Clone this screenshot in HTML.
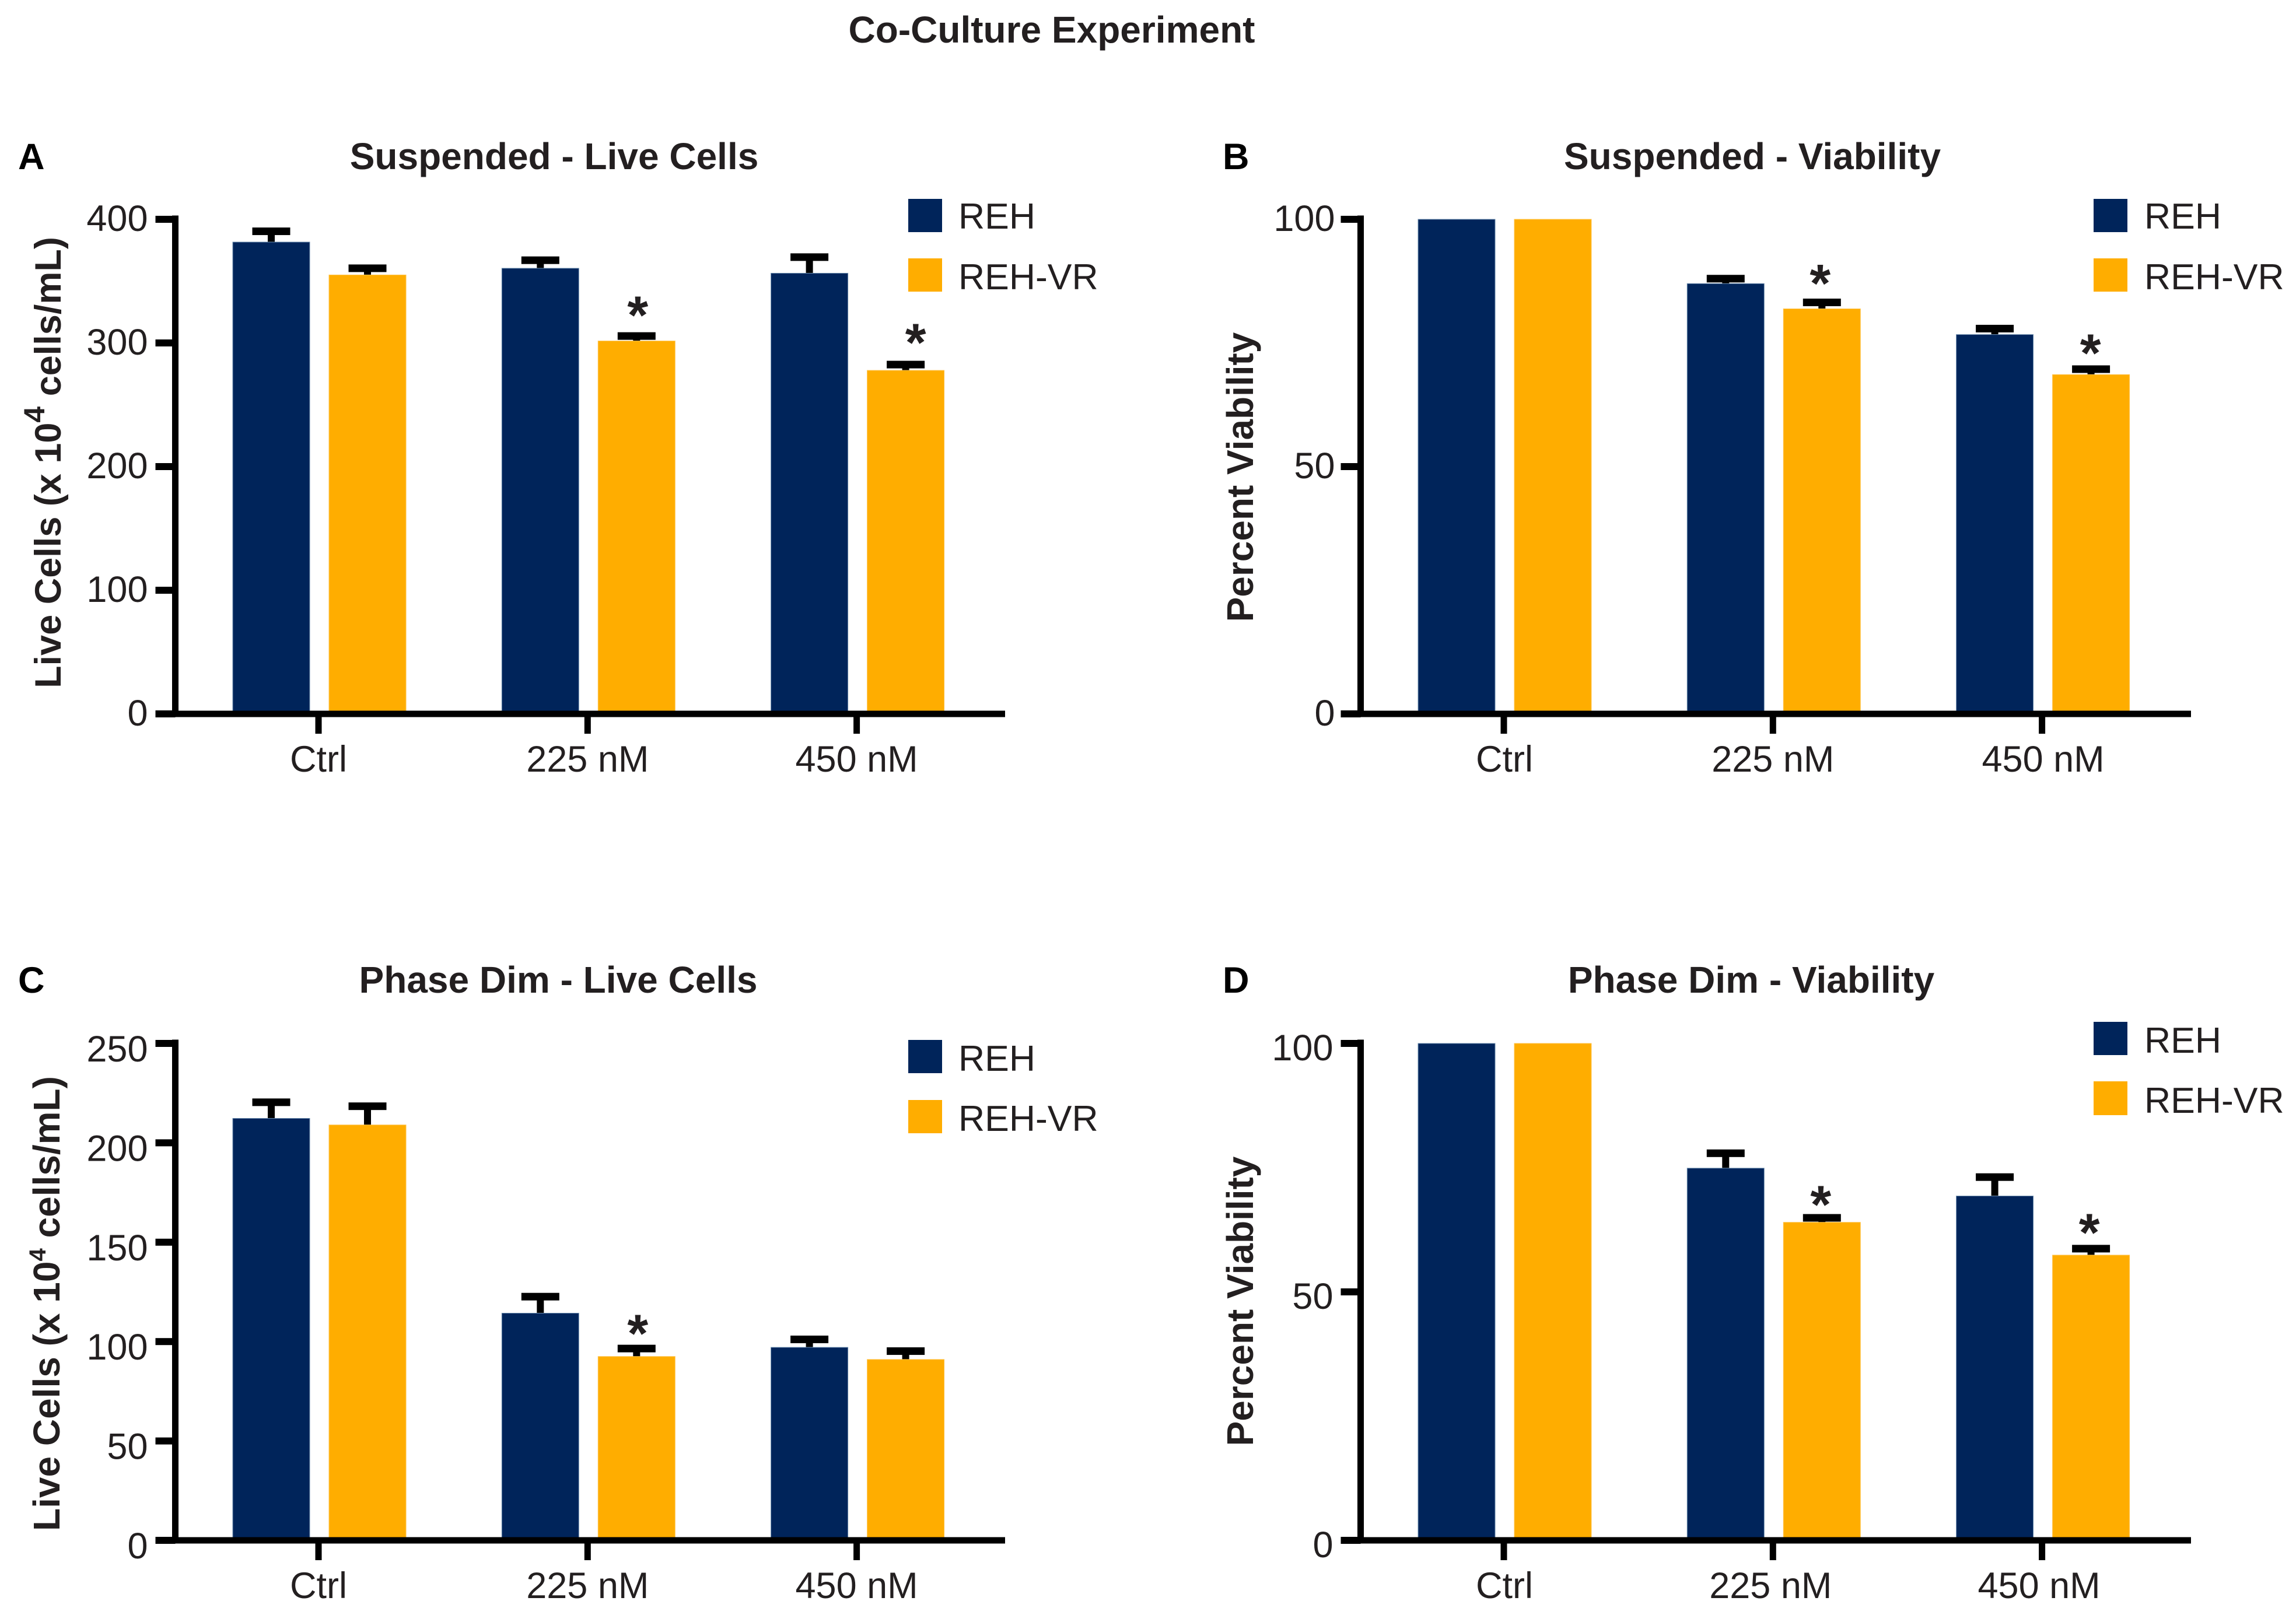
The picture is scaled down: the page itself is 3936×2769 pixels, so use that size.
<!DOCTYPE html>
<html lang="en">
<head>
<meta charset="utf-8">
<title>Co-Culture Experiment</title>
<style>
html,body{margin:0;padding:0;background:#fff;}
svg{display:block;}
text{font-family:"Liberation Sans",Arial,sans-serif;fill:#231f20;}
.bold{font-weight:700;}
.ttl{font-size:64px;font-weight:700;text-anchor:middle;}
.ylab{font-size:64px;font-weight:700;text-anchor:middle;}
.let{font-size:63px;font-weight:700;fill:#000;}
.leg{font-size:62.5px;}
.tick{font-size:63px;}
</style>
</head>
<body>
<svg id="figure" xmlns="http://www.w3.org/2000/svg" width="3936" height="2769" viewBox="0 0 3936 2769">
  <rect x="0" y="0" width="3936" height="2769" fill="#ffffff"/>
  <text class="ttl" x="1803" y="73">Co-Culture Experiment</text>

  <g id="panel-a">
    <text class="let" x="31" y="290">A</text>
    <text class="ttl" x="950" y="290">Suspended - Live Cells</text>
    <text class="ylab" font-size="63" style="font-size:63px" transform="translate(104 793) rotate(-90)">Live Cells (x 10<tspan font-size="50" style="font-size:50px" dy="-28">4</tspan><tspan dy="28"> cells/mL)</tspan></text>
    <rect x="1557" y="341" width="58" height="57" fill="#00245a"/>
    <text class="leg" x="1643" y="392">REH</text>
    <rect x="1557" y="443" width="58" height="57" fill="#ffad00"/>
    <text class="leg" x="1643" y="496">REH-VR</text>
  </g>

  <g id="panel-b">
    <text class="let" x="2096" y="290">B</text>
    <text class="ttl" x="3004" y="290">Suspended - Viability</text>
    <text class="ylab" transform="translate(2148 818) rotate(-90)">Percent Viability</text>
    <rect x="3589" y="341" width="58" height="57" fill="#00245a"/>
    <text class="leg" x="3676" y="392">REH</text>
    <rect x="3589" y="443" width="58" height="57" fill="#ffad00"/>
    <text class="leg" x="3676" y="496">REH-VR</text>
  </g>

  <g id="panel-c">
    <text class="let" x="31" y="1702">C</text>
    <text class="ttl" x="957" y="1702">Phase Dim - Live Cells</text>
    <text class="ylab" transform="translate(102 2235) rotate(-90)">Live Cells (x 10<tspan font-size="40" style="font-size:40px" dy="-24">4</tspan><tspan dy="24">  cells/mL)</tspan></text>
    <rect x="1557" y="1783" width="58" height="57" fill="#00245a"/>
    <text class="leg" x="1643" y="1836">REH</text>
    <rect x="1557" y="1886" width="58" height="57" fill="#ffad00"/>
    <text class="leg" x="1643" y="1939">REH-VR</text>
  </g>

  <g id="panel-d">
    <text class="let" x="2096" y="1702">D</text>
    <text class="ttl" x="3002" y="1702">Phase Dim - Viability</text>
    <text class="ylab" transform="translate(2148 2231) rotate(-90)">Percent Viability</text>
    <rect x="3589" y="1752" width="58" height="57" fill="#00245a"/>
    <text class="leg" x="3676" y="1805">REH</text>
    <rect x="3589" y="1854" width="58" height="58" fill="#ffad00"/>
    <text class="leg" x="3676" y="1908">REH-VR</text>
  </g>
</svg>

<script>
// Shared categories
const categories = ['Ctrl', '225 nM', '450 nM'];

// Panel A: Suspended - Live Cells
const ticksA = [0, 100, 200, 300, 400];
const rehA = [381.6, 360.4, 356.4];
const rehErrA = [8.7, 6.5, 13.0];
const vrA = [355.0, 301.6, 277.8];
const vrErrA = [5.4, 4.0, 4.7];
const starsA = [false, true, true];

// Panel B: Suspended - Viability
const ticksB = [0, 50, 100];
const rehB = [100, 87.0, 76.7];
const rehErrB = [0, 1.0, 1.2];
const vrB = [100, 81.9, 68.6];
const vrErrB = [0, 1.3, 1.1];
const starsB = [false, true, true];

// Panel C: Phase Dim - Live Cells
const ticksC = [0, 50, 100, 150, 200, 250];
const rehC = [212.3, 114.3, 97.1];
const rehErrC = [8.1, 8.3, 4.0];
const vrC = [209.0, 92.5, 91.0];
const vrErrC = [9.4, 4.0, 4.2];
const starsC = [false, true, false];

// Panel D: Phase Dim - Viability
const ticksD = [0, 50, 100];
const rehD = [100, 74.9, 69.3];
const rehErrD = [0, 3.0, 3.8];
const vrD = [100, 64.0, 57.4];
const vrErrD = [0, 0.9, 1.3];
const starsD = [false, true, true];

const NS = 'http://www.w3.org/2000/svg';
const NAVY = '#00245a';
const AMBER = '#ffad00';

function mk(parent, tag, attrs, txt) {
  const el = document.createElementNS(NS, tag);
  for (const k in attrs) el.setAttribute(k, attrs[k]);
  if (txt !== undefined) el.textContent = txt;
  parent.appendChild(el);
  return el;
}

function drawPanel(p) {
  const root = document.getElementById(p.id);
  const yMax = p.ticks[p.ticks.length - 1];
  const yScale = v => p.y0 - (v / yMax) * (p.y0 - p.yTop);
  const xScale = i => p.x0 + i * 461.3;

  // y axis
  const spine = mk(root, 'rect', {x: p.ax - 5.5, y: p.yTop - 6.5, width: 11, height: p.y0 - p.yTop + 12, fill: '#000'});
  
  

  p.ticks.forEach(t => {
    const yy = yScale(t);
    const tk = mk(root, 'rect', {x: p.ax - 34, y: yy - 6, width: 34, height: 12, fill: '#000'});
    
    
    const lb = mk(root, 'text', {class: 'tick', x: p.ax - p.labelGap, y: yy + p.labelDy, 'text-anchor': 'end'}, String(t));
    
    
  });

  // bars + errors + stars
  categories.forEach((c, i) => {
    const cx = xScale(i);
    const series = [
      {name: 'reh', vals: p.reh, errs: p.rehErr, color: NAVY, edge: '#6f8fb0', left: cx - 147},
      {name: 'reh-vr', vals: p.vr, errs: p.vrErr, color: AMBER, edge: '#ffc44d', left: cx + 18}
    ];
    series.forEach(s => {
      const top = yScale(s.vals[i]);
      const center = s.left + 66;
      const err = s.errs[i];
      if (err > 0) {
        const capY = yScale(s.vals[i] + err);
        const stem = mk(root, 'rect', {x: center - 6, y: capY, width: 12, height: top - capY + 1, fill: '#000'});
        
        
        const cap = mk(root, 'rect', {x: center - 32.5, y: capY - 6.5, width: 65, height: 13, fill: '#000'});
        
        
      }
      const bar = mk(root, 'rect', {x: s.left, y: top, width: 132, height: p.y0 - 5 - top, fill: s.color, stroke: s.edge, 'stroke-width': 1});
      
      
    });
    if (p.stars[i]) {
      const capTop = yScale(p.vr[i] + p.vrErr[i]);
      const star = mk(root, 'text', {x: cx + 18 + 66 + p.starDx[i], y: capTop - p.starGap[i] + 44, 'text-anchor': 'middle', 'font-size': 92, 'font-weight': 700}, '*');
      
      
    }
  });

  // x axis
  const base = mk(root, 'rect', {x: p.ax - 34, y: p.y0 - 5.5, width: p.right - p.ax + 34, height: 11, fill: '#000'});
  
  

  categories.forEach((c, i) => {
    const cx = xScale(i);
    const tk = mk(root, 'rect', {x: cx - 5.5, y: p.y0, width: 11, height: 34, fill: '#000'});
    
    
    const lb = mk(root, 'text', {class: 'tick', x: cx + p.xLabelDx[i], y: p.y0 + p.xLabelDy, 'text-anchor': 'middle'}, c);
    
    
  });
}

drawPanel({id: 'panel-a', ticks: ticksA, reh: rehA, rehErr: rehErrA, vr: vrA, vrErr: vrErrA, stars: starsA,
  y0: 1224, yTop: 376, ax: 300.5, right: 1723, x0: 546, labelDy: 20, labelGap: 47, xLabelDy: 99, xLabelDx: [0, 0, 0], starDx: [0, 2, 17], starGap: [0, 48, 50]});
drawPanel({id: 'panel-b', ticks: ticksB, reh: rehB, rehErr: rehErrB, vr: vrB, vrErr: vrErrB, stars: starsB,
  y0: 1224, yTop: 376, ax: 2332.5, right: 3756, x0: 2578, labelDy: 20, labelGap: 44, xLabelDy: 99, xLabelDx: [1, 0, 2], starDx: [0, -3, -1], starGap: [0, 45, 40]});
drawPanel({id: 'panel-c', ticks: ticksC, reh: rehC, rehErr: rehErrC, vr: vrC, vrErr: vrErrC, stars: starsC,
  y0: 2641, yTop: 1789, ax: 300.5, right: 1723, x0: 546, labelDy: 31, labelGap: 47, xLabelDy: 99, xLabelDx: [0, 0, 0], starDx: [0, 2, 0], starGap: [0, 38, 0]});
drawPanel({id: 'panel-d', ticks: ticksD, reh: rehD, rehErr: rehErrD, vr: vrD, vrErr: vrErrD, stars: starsD,
  y0: 2641, yTop: 1789, ax: 2332.5, right: 3756, x0: 2578, labelDy: 29, labelGap: 47, xLabelDy: 99, xLabelDx: [1, -4, -5], starDx: [0, -2, -3], starGap: [0, 35, 40]});
</script>
</body>
</html>
